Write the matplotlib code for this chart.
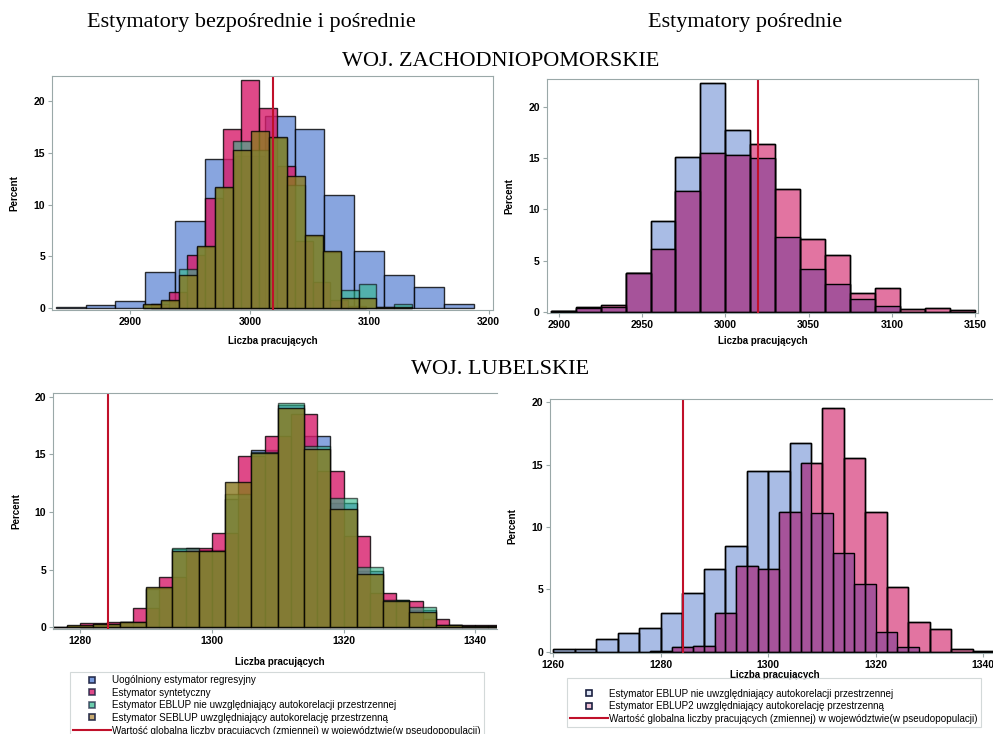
import numpy as np
import matplotlib
matplotlib.use("Agg")
import matplotlib.pyplot as plt
from matplotlib.lines import Line2D

# ---- WOJ. ZACHODNIOPOMORSKIE, direct + indirect estimators ----
zp_greg_start, zp_greg_width = 2837.5, 25
zp_greg = [0.1, 0.3, 0.7, 3.5, 8.4, 14.4, 14.7, 18.5, 17.3, 10.9, 5.5, 3.2, 2.1, 0.4]

zp_synt_start, zp_synt_width = 2917.5, 15
zp_synt = [0.4, 1.6, 5.1, 10.6, 17.3, 22.0, 19.3, 13.7, 6.5, 2.5, 0.8, 0.2]

zp_eb_start, zp_eb_width = 2911, 15
zp_eblup = [0.3, 0.7, 3.8, 5.9, 11.6, 16.1, 15.3, 16.4, 11.9, 7.0, 5.4, 1.8, 2.3, 0.1, 0.4]
zp_seblup = [0.4, 0.8, 3.2, 6.0, 11.7, 15.3, 17.1, 16.5, 12.8, 7.1, 5.5, 1.0, 1.0, 0.1, 0.1]

# ---- WOJ. ZACHODNIOPOMORSKIE, indirect estimators ----
zp_ind_start, zp_ind_width = 2895, 15
zp_ind_eblup = [0.1, 0.4, 0.5, 3.8, 8.9, 15.1, 22.4, 17.8, 15.0, 7.3, 4.2, 2.7, 1.2, 0.6]
zp_ind_eblup2 = [0.1, 0.5, 0.7, 3.8, 6.1, 11.8, 15.5, 15.3, 16.4, 12.0, 7.1, 5.5, 1.8, 2.3,
                 0.3, 0.4, 0.2]

zp_true = 3019.3

# ---- WOJ. LUBELSKIE, direct + indirect estimators ----
lu_start, lu_width = 1274, 4
lu_greg = [0.05, 0.1, 0.3, 0.5, 3.3, 6.8, 6.7, 11.1, 15.4, 19.3, 16.6, 10.8, 4.9, 2.4, 1.5,
           0.2, 0.1, 0.1]
lu_eblup = [0.05, 0.1, 0.3, 0.5, 3.4, 6.9, 6.6, 11.6, 15.2, 19.5, 15.7, 11.2, 5.2, 2.4, 1.8,
            0.2, 0.1, 0.1]
lu_seblup = [0.05, 0.2, 0.3, 0.5, 3.5, 6.6, 6.6, 12.6, 15.1, 19.0, 15.5, 10.3, 4.6, 2.3, 1.3,
             0.2, 0.1, 0.1]

lu_synt_start, lu_synt_width = 1280, 4
lu_synt = [0.4, 0.5, 1.7, 4.4, 6.9, 8.2, 14.9, 16.6, 18.5, 13.6, 7.9, 3.0, 2.3, 0.7, 0.2, 0.2]

# ---- WOJ. LUBELSKIE, indirect estimators ----
lu_ind_start, lu_ind_width = 1260, 4
lu_ind_eblup = [0.2, 0.2, 1.0, 1.5, 1.9, 3.1, 4.7, 6.6, 8.5, 14.5, 14.5, 16.7, 11.1, 7.9,
                5.4, 1.6, 0.4]
lu_ind2_start, lu_ind2_width = 1278, 4
lu_ind_eblup2 = [0.1, 0.4, 0.5, 3.1, 6.9, 6.6, 11.2, 15.1, 19.5, 15.5, 11.2, 5.2, 2.4, 1.8,
                 0.2, 0.1]

lu_true = 1284.2

labels4 = [
    "Uogólniony estymator regresyjny",
    "Estymator syntetyczny",
    "Estymator EBLUP nie uwzględniający autokorelacji przestrzennej",
    "Estymator SEBLUP uwzględniający autokorelację przestrzenną",
    "Wartość globalna liczby pracujących (zmiennej) w województwie(w pseudopopulacji)",
]
labels2 = [
    "Estymator EBLUP nie uwzględniający autokorelacji przestrzennej",
    "Estymator EBLUP2 uwzględniający autokorelację przestrzenną",
    "Wartość globalna liczby pracujących (zmiennej) w województwie(w pseudopopulacji)",
]

C_GREG = "#6a8fd8"
C_SYNT = "#d81b6a"
C_EBLUP = "#2eb88a"
C_SEBLUP = "#8a7a20"
C_IND1 = "#a9bce5"
C_IND2 = "#e274a1"
C_OVER = "#a6539a"
C_TRUE = "#c0102a"
C_FRAME = "#9aa8a8"

plt.rcParams.update({
    "font.family": "Liberation Sans",
    "font.size": 7,
})

W, H = 993, 734
fig = plt.figure(figsize=(W / 100, H / 100), dpi=100)


def add_axes(x0, y0, x1, y1):
    # pixel box -> figure fraction
    return fig.add_axes([x0 / W, 1 - y1 / H, (x1 - x0) / W, (y1 - y0) / H])


def bin_left(start, width, values):
    return start + width * np.arange(len(values))


def hist(ax, start, width, values, color, alpha=1.0):
    ax.bar(bin_left(start, width, values), values, width=width, align="edge",
           color=color, alpha=alpha, edgecolor="black", linewidth=1.0)


def outline(ax, start, width, values):
    ax.bar(bin_left(start, width, values), values, width=width, align="edge",
           fill=False, edgecolor="black", linewidth=1.0)


def on_grid(grid, start, width, values):
    # step-function value of a histogram at each grid cell
    idx = np.floor((grid - start) / width).astype(int)
    ok = (idx >= 0) & (idx < len(values))
    out = np.zeros(len(grid))
    out[ok] = np.asarray(values)[idx[ok]]
    return out


def overlap(ax, a, b, step=1):
    # shared area of two histograms, drawn in the darker mixed colour
    lo = min(a[0], b[0])
    hi = max(a[0] + a[1] * len(a[2]), b[0] + b[1] * len(b[2]))
    edges = np.arange(lo, hi + step, step)
    cells = edges[:-1] + step / 2
    common = np.minimum(on_grid(cells, *a), on_grid(cells, *b))
    ax.stairs(common, edges, fill=True, color=C_OVER, linewidth=0)


def style(ax, xlim, ylim, xticks, lab_x, lab_y, ylab_x, right=True):
    ax.set_xlim(*xlim)
    ax.set_ylim(*ylim)
    ax.set_xticks(xticks)
    ax.set_yticks([0, 5, 10, 15, 20])
    for s in ax.spines.values():
        s.set_color(C_FRAME)
        s.set_linewidth(0.8)
    ax.spines["right"].set_visible(right)
    ax.tick_params(length=3, width=0.8, color=C_FRAME, pad=2, labelsize=7.5)
    for t in ax.get_xticklabels() + ax.get_yticklabels():
        t.set_fontweight("bold")
    ax.set_xlabel("Liczba pracujących", fontweight="bold", fontsize=7)
    ax.set_ylabel("Percent", fontweight="bold", fontsize=7)
    ax.xaxis.set_label_coords(lab_x, lab_y)
    ax.yaxis.set_label_coords(ylab_x, 0.5)


# top-left
ax1 = add_axes(52, 76, 493, 310)
hist(ax1, zp_greg_start, zp_greg_width, zp_greg, C_GREG, 0.8)
hist(ax1, zp_synt_start, zp_synt_width, zp_synt, C_SYNT, 0.8)
hist(ax1, zp_eb_start, zp_eb_width, zp_eblup, C_EBLUP, 0.6)
hist(ax1, zp_eb_start, zp_eb_width, zp_seblup, C_SEBLUP, 0.8)
ax1.axvline(zp_true, color=C_TRUE, lw=1.5)
style(ax1, (2834.4, 3203.6), (-0.16, 22.4), [2900, 3000, 3100, 3200], 0.50, -0.111, -0.075)

# top-right
ax2 = add_axes(546.7, 79.3, 978.3, 313)
zp_a = (zp_ind_start, zp_ind_width, zp_ind_eblup)
zp_b = (zp_ind_start, zp_ind_width, zp_ind_eblup2)
hist(ax2, *zp_a, C_IND1)
hist(ax2, *zp_b, C_IND2)
overlap(ax2, zp_a, zp_b, step=zp_ind_width)
outline(ax2, *zp_a)
outline(ax2, *zp_b)
ax2.axvline(zp_true, color=C_TRUE, lw=1.5)
style(ax2, (2892.6, 3152), (-0.13, 22.74), [2900, 2950, 3000, 3050, 3100, 3150],
      0.50, -0.098, -0.076)

# bottom-left
ax3 = add_axes(53.3, 393.3, 497, 629)
hist(ax3, lu_start, lu_width, lu_greg, C_GREG, 0.8)
hist(ax3, lu_synt_start, lu_synt_width, lu_synt, C_SYNT, 0.8)
hist(ax3, lu_start, lu_width, lu_eblup, C_EBLUP, 0.6)
hist(ax3, lu_start, lu_width, lu_seblup, C_SEBLUP, 0.8)
ax3.axvline(lu_true, color=C_TRUE, lw=1.5)
style(ax3, (1275.9, 1343.3), (-0.15, 20.3), [1280, 1300, 1320, 1340], 0.51, -0.119, -0.071,
      right=False)

# bottom-right
ax4 = add_axes(550, 399, 993, 653)
lu_a = (lu_ind_start, lu_ind_width, lu_ind_eblup)
lu_b = (lu_ind2_start, lu_ind2_width, lu_ind_eblup2)
hist(ax4, *lu_a, C_IND1)
hist(ax4, *lu_b, C_IND2)
overlap(ax4, lu_a, lu_b, step=2)
outline(ax4, *lu_a)
outline(ax4, *lu_b)
ax4.axvline(lu_true, color=C_TRUE, lw=1.5)
style(ax4, (1259.4, 1341.8), (-0.1, 20.25), [1260, 1280, 1300, 1320, 1340], 0.508, -0.067,
      -0.074, right=False)

# headers
serif = "Liberation Serif"
fig.text(251 / W, 1 - 22 / H, "Estymatory bezpośrednie i pośrednie", family=serif,
         fontsize=16, ha="center", va="center")
fig.text(745 / W, 1 - 22 / H, "Estymatory pośrednie", family=serif, fontsize=16,
         ha="center", va="center")
fig.text(501 / W, 1 - 61 / H, "WOJ. ZACHODNIOPOMORSKIE", family=serif, fontsize=16,
         ha="center", va="center")
fig.text(500 / W, 1 - 369 / H, "WOJ. LUBELSKIE", family=serif, fontsize=16,
         ha="center", va="center")


def sq(color, alpha):
    return Line2D([], [], marker="s", ls="none", markersize=5, markerfacecolor=color,
                  markeredgecolor="#1a2040", markeredgewidth=1.2, alpha=alpha)


true_h = Line2D([], [], color=C_TRUE, lw=1.5)

leg_kw = dict(loc="upper left", fontsize=7.1, frameon=True, fancybox=False,
              handlelength=3.9, handletextpad=0.1, labelspacing=0.27, borderpad=0.3,
              borderaxespad=0)

leg1 = fig.legend([sq(C_GREG, 0.9), sq(C_SYNT, 0.8), sq(C_EBLUP, 0.7), sq("#c0a060", 0.9),
                   true_h], labels4, bbox_to_anchor=(70 / W, 1 - 672 / H), **leg_kw)
leg2 = fig.legend([sq("#dde4f4", 1), sq("#f0c0d4", 1), true_h], labels2,
                  bbox_to_anchor=(567 / W, 1 - 678 / H), title=" ", title_fontsize=4,
                  **leg_kw)
for leg in (leg1, leg2):
    leg.get_frame().set_edgecolor("#c8d0d0")
    leg.get_frame().set_linewidth(0.8)

fig.savefig("out.png", dpi=100)
